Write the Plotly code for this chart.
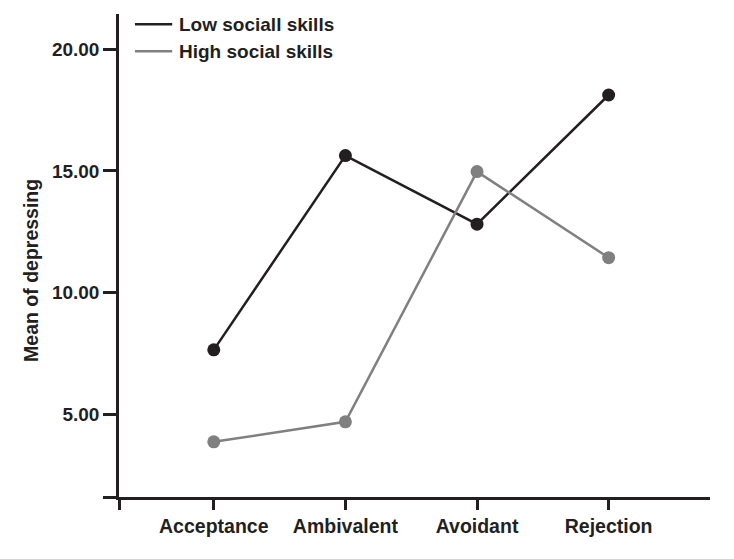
import plotly.graph_objects as go

categories = ["Acceptance", "Ambivalent", "Avoidant", "Rejection"]
low_social = [7.64, 15.63, 12.81, 18.12]
high_social = [3.86, 4.68, 14.97, 11.43]
series_names = ["Low sociall skills", "High social skills"]
y_ticks = [5, 10, 15, 20]
y_tick_labels = ["5.00", "10.00", "15.00", "20.00"]

FONT = "Liberation Sans, Arial, sans-serif"
BLACK = "#231f20"
GRAY = "#808080"
colors = [BLACK, GRAY]

x_idx = list(range(len(categories)))
x_min, x_max = -0.72, 3.77
y_min, y_max = 1.59, 21.45

fig = go.Figure()
for name, vals, col in zip(series_names, [low_social, high_social], colors):
    fig.add_trace(go.Scatter(
        x=x_idx, y=vals, mode="lines+markers", name=name, showlegend=False,
        line=dict(color=col, width=2.5), marker=dict(color=col, size=13),
    ))

# legend drawn as key lines + text (lines only, as in the reference)
legend_rows_y = [0.979, 0.923]
shapes = []
annotations = []
for name, col, ly in zip(series_names, colors, legend_rows_y):
    shapes.append(dict(type="line", xref="paper", yref="paper",
                       x0=0.027, x1=0.090, y0=ly, y1=ly,
                       line=dict(color=col, width=2.5)))
    annotations.append(dict(text=f"<b>{name}</b>", xref="paper", yref="paper",
                            x=0.098, y=ly, xanchor="left", yanchor="middle",
                            showarrow=False, font=dict(size=19, color=BLACK)))

annotations.append(dict(
    text="<b>Mean of depressing</b>", textangle=-90,
    xref="paper", yref="paper", x=-0.149, y=0.47,
    xanchor="center", yanchor="middle", showarrow=False,
    font=dict(size=19.5, color=BLACK),
))

fig.update_layout(
    width=734, height=559,
    margin=dict(l=111, r=32, t=6, b=70),
    paper_bgcolor="white", plot_bgcolor="white",
    font=dict(family=FONT, size=19, color=BLACK),
    showlegend=False,
    xaxis=dict(
        range=[x_min, x_max], automargin=False,
        tickmode="array",
        tickvals=[x_min] + x_idx,
        ticktext=[""] + [f"<b>{c}</b>" for c in categories],
        tickangle=0,
        showline=True, linecolor=BLACK, linewidth=2.5,
        ticks="outside", ticklen=10, tickwidth=2.5, tickcolor=BLACK,
        showgrid=False, zeroline=False,
        tickfont=dict(size=19.5, color=BLACK),
    ),
    yaxis=dict(
        range=[y_min, y_max], automargin=False,
        tickmode="array",
        tickvals=[y_min] + y_ticks,
        ticktext=[""] + [f"<b>{t}</b>" for t in y_tick_labels],
        showline=True, linecolor=BLACK, linewidth=2.5,
        ticks="outside", ticklen=13, tickwidth=2.5, tickcolor=BLACK,
        showgrid=False, zeroline=False,
        tickfont=dict(size=19, color=BLACK),
    ),
    shapes=shapes,
    annotations=annotations,
)

fig.write_html("out.html")
